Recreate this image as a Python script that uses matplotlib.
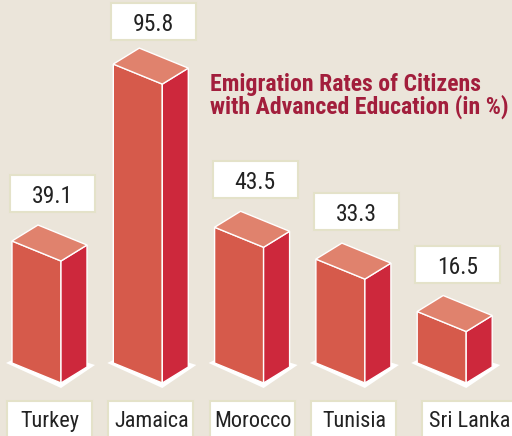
import matplotlib
matplotlib.use('Agg')
from matplotlib import pyplot as plt
from matplotlib.patches import Polygon, Rectangle

countries = ['Turkey', 'Jamaica', 'Morocco', 'Tunisia', 'Sri Lanka']
rates = [39.1, 95.8, 43.5, 33.3, 16.5]
title = 'Emigration Rates of Citizens\nwith Advanced Education (in %)'

BG = '#ebe5da'
FRONT = '#d65a4b'
TOP = '#e0826d'
SIDE = '#cd283c'
TITLE_C = '#a21e3c'
BOX_EDGE = '#e4e2c9'

plt.rcParams['font.family'] = ['Roboto Condensed', 'Sofia Sans Condensed', 'DejaVu Sans']

fig = plt.figure(figsize=(5.12, 4.36), dpi=100, facecolor=BG)
ax = fig.add_axes([0, 0, 1, 1])
ax.set_xlim(0, 512)
ax.set_ylim(436, 0)  # pixel space, y down
ax.axis('off')
ax.set_facecolor(BG)

scale = 3.12      # px per percent
base = 383        # front bottom corner
step = 101.3
x_start = 12
w_front, w_side = 49, 26
d_front, d_side = 20, 16   # vertical drop of the top edges

for i, (name, v) in enumerate(zip(countries, rates)):
    L = x_start + i * step
    F = L + w_front
    R = F + w_side
    yF = base - v * scale          # top front corner
    yL = yF - d_front
    yR = yF - d_side
    yB = yL - d_side               # back top corner
    bL = base - d_front
    bR = base - d_side

    # white base shadow
    ax.add_patch(Polygon([(L - 6, bL), (F, base + 5), (R + 8, bR - 2), (L + w_side, bL - 16)],
                         closed=True, facecolor='white', edgecolor='none', zorder=1))
    # front face
    ax.add_patch(Polygon([(L, yL), (F, yF), (F, base), (L, bL)], closed=True,
                         facecolor=FRONT, edgecolor='white', linewidth=1.0, zorder=2))
    # side face
    ax.add_patch(Polygon([(F, yF), (R, yR), (R, bR), (F, base)], closed=True,
                         facecolor=SIDE, edgecolor='white', linewidth=1.0, zorder=2))
    # top face
    ax.add_patch(Polygon([(L, yL), (L + w_side, yB), (R, yR), (F, yF)], closed=True,
                         facecolor=TOP, edgecolor='white', linewidth=1.0, zorder=3))

    # value box
    bw, bh = 85, 37
    box_bot = max(yL - 29, 40)
    bx = L - 2
    ax.add_patch(Rectangle((bx, box_bot - bh), bw, bh, facecolor='white',
                           edgecolor=BOX_EDGE, linewidth=1.5, zorder=4))
    ax.text(bx + bw / 2, box_bot - 9, '%.1f' % v, ha='center', va='baseline',
            fontsize=17, color='#222222', zorder=5)

    # label box
    lx = L - 5 + (10 if i == 4 else 0)
    ax.add_patch(Rectangle((lx, 401), 85 if i < 4 else 100, 40, facecolor='white',
                           edgecolor=BOX_EDGE, linewidth=1.5, zorder=4))
    ax.text(L + 38 + (14 if i == 4 else 0), 427, name, ha='center', va='baseline',
            fontsize=16, color='#222222', zorder=5)

ax.text(210, 114, title, ha='left', va='baseline', fontsize=17.1, fontweight='bold',
        color=TITLE_C, linespacing=0.93)

fig.savefig('out.png', dpi=100, facecolor=BG)
